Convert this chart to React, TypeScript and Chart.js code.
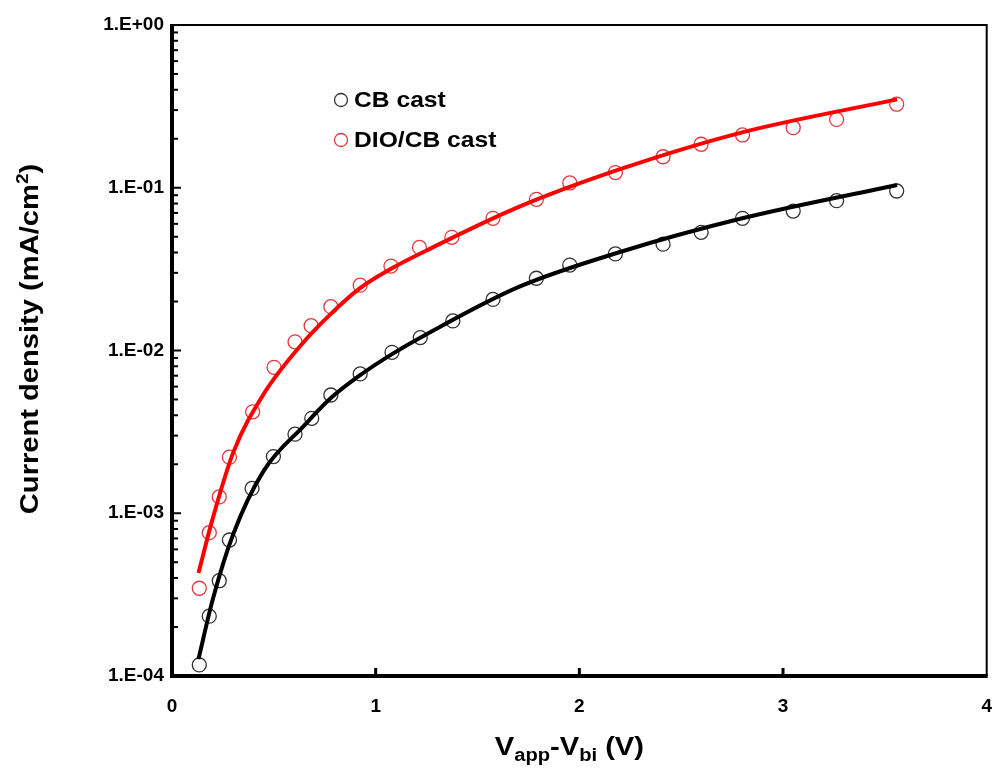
import React, { useEffect, useRef } from "react";
import { Chart, registerables } from "chart.js";

Chart.register(...registerables);

// Measured points
const cbX = [0.134, 0.183, 0.232, 0.282, 0.393, 0.498, 0.604, 0.686, 0.78, 0.924, 1.08, 1.219, 1.379, 1.576, 1.789, 1.953, 2.177, 2.411, 2.598, 2.801, 3.05, 3.263, 3.558];
const cbY = [1.17e-4, 2.33e-4, 3.85e-4, 6.85e-4, 1.42e-3, 2.23e-3, 3.06e-3, 3.83e-3, 5.33e-3, 7.18e-3, 9.75e-3, 1.2e-2, 1.52e-2, 2.06e-2, 2.78e-2, 3.35e-2, 3.92e-2, 4.5e-2, 5.32e-2, 6.49e-2, 7.19e-2, 8.33e-2, 9.55e-2];
const dioX = [0.134, 0.183, 0.232, 0.282, 0.396, 0.501, 0.604, 0.683, 0.78, 0.924, 1.075, 1.215, 1.374, 1.576, 1.789, 1.953, 2.177, 2.411, 2.598, 2.801, 3.05, 3.263, 3.558];
const dioY = [3.46e-4, 7.6e-4, 1.26e-3, 2.21e-3, 4.2e-3, 7.88e-3, 1.13e-2, 1.42e-2, 1.86e-2, 2.52e-2, 3.3e-2, 4.3e-2, 4.96e-2, 6.49e-2, 8.49e-2, 0.107, 0.124, 0.155, 0.185, 0.211, 0.234, 0.263, 0.326];

// Fitted curves
const cbFitX = [0.13, 0.2, 0.3, 0.45, 0.65, 0.78, 0.92, 1.08, 1.25, 1.7, 2.2, 2.8, 3.56];
const cbFitY = [1.27e-4, 2.95e-4, 7.4e-4, 1.82e-3, 3.47e-3, 5.1e-3, 7.0e-3, 9.5e-3, 1.26e-2, 2.45e-2, 4.03e-2, 6.49e-2, 0.104];
const dioFitX = [0.13, 0.2, 0.3, 0.45, 0.65, 0.78, 0.92, 1.08, 1.25, 1.7, 2.2, 2.8, 3.56];
const dioFitY = [4.3e-4, 9.3e-4, 2.35e-3, 5.4e-3, 1.14e-2, 1.68e-2, 2.4e-2, 3.2e-2, 4.12e-2, 7.6e-2, 0.13, 0.219, 0.349];

const seriesNames = ["CB cast", "DIO/CB cast"];
const yTickValues = [1e-4, 1e-3, 1e-2, 1e-1, 1];
const yTickLabels = ["1.E-04", "1.E-03", "1.E-02", "1.E-01", "1.E+00"];
const xTickValues = [0, 1, 2, 3, 4];

const FONT = "Arial, 'Liberation Sans', sans-serif";
const STRETCH = 1.12;

const toPts = (xs: number[], ys: number[]) => xs.map((x, i) => ({ x, y: ys[i] }));

function drawParts(ctx: CanvasRenderingContext2D, parts: [string, number, number][], startX: number, base: number) {
  let cx = startX;
  for (const [t, s, off] of parts) {
    ctx.font = `bold ${s}px ${FONT}`;
    ctx.fillText(t, cx, base + off);
    cx += ctx.measureText(t).width;
  }
}
function partsWidth(ctx: CanvasRenderingContext2D, parts: [string, number, number][]) {
  let w = 0;
  for (const [t, s] of parts) {
    ctx.font = `bold ${s}px ${FONT}`;
    w += ctx.measureText(t).width;
  }
  return w;
}

const decorPlugin = {
  id: "decor",
  afterDatasetsDraw(chart: any) {
    const { ctx, chartArea, scales } = chart;
    const { left, right, top, bottom } = chartArea;
    const xs = scales.x;
    const ys = scales.y;
    ctx.save();
    ctx.strokeStyle = "#000";
    // y ticks (inside)
    ctx.lineWidth = 2;
    for (let d = -4; d < 0; d++) {
      for (let m = 1; m <= 9; m++) {
        const v = m * Math.pow(10, d);
        const py = ys.getPixelForValue(v);
        const len = m === 1 ? 9 : 6;
        ctx.beginPath();
        ctx.moveTo(left, py);
        ctx.lineTo(left + len, py);
        ctx.stroke();
      }
    }
    const pyTop = ys.getPixelForValue(1);
    ctx.beginPath();
    ctx.moveTo(left, pyTop);
    ctx.lineTo(left + 9, pyTop);
    ctx.stroke();
    // x ticks (inside)
    ctx.lineWidth = 3;
    for (const v of [1, 2, 3]) {
      const px = xs.getPixelForValue(v);
      ctx.beginPath();
      ctx.moveTo(px, bottom);
      ctx.lineTo(px, bottom - 8);
      ctx.stroke();
    }
    // frame
    ctx.lineWidth = 2;
    ctx.beginPath();
    ctx.moveTo(left, top);
    ctx.lineTo(right, top);
    ctx.lineTo(right, bottom);
    ctx.stroke();
    ctx.lineWidth = 4;
    ctx.beginPath();
    ctx.moveTo(left, top - 1);
    ctx.lineTo(left, bottom);
    ctx.lineTo(right + 1, bottom);
    ctx.stroke();

    // legend
    const legendColors = ["#333", "#e0393e"];
    ctx.textBaseline = "middle";
    ctx.textAlign = "left";
    seriesNames.forEach((name, i) => {
      const cy = 100 + i * 40;
      ctx.beginPath();
      ctx.lineWidth = 1.3;
      ctx.strokeStyle = legendColors[i];
      ctx.arc(341, cy, 6.5, 0, Math.PI * 2);
      ctx.stroke();
      ctx.fillStyle = "#000";
      ctx.save();
      ctx.translate(354, cy + 1);
      ctx.scale(STRETCH, 1);
      ctx.font = `bold 22px ${FONT}`;
      ctx.fillText(name, 0, 0);
      ctx.restore();
    });

    // x title with subscripts
    ctx.fillStyle = "#000";
    ctx.textBaseline = "alphabetic";
    const parts: [string, number, number][] = [
      ["V", 26, 0],
      ["app", 18, 6],
      ["-V", 26, 0],
      ["bi", 18, 6],
      [" (V)", 26, 0],
    ];
    ctx.save();
    const xw = partsWidth(ctx, parts) * STRETCH;
    ctx.translate((left + right) / 2 - xw / 2 - 10, 755);
    ctx.scale(STRETCH, 1);
    drawParts(ctx, parts, 0, 0);
    ctx.restore();

    // y title rotated with superscript
    ctx.save();
    ctx.translate(38, 339);
    ctx.rotate(-Math.PI / 2);
    const yparts: [string, number, number][] = [
      ["Current density (mA/cm", 26, 0],
      ["2", 17, -10],
      [")", 26, 0],
    ];
    const tw = partsWidth(ctx, yparts);
    ctx.scale(STRETCH, 1);
    drawParts(ctx, yparts, -tw / 2, 0);
    ctx.restore();
    ctx.restore();
  },
};

export default function App() {
  const ref = useRef<HTMLCanvasElement | null>(null);
  useEffect(() => {
    if (!ref.current) return;
    const chart = new Chart(ref.current, {
      type: "scatter",
      data: {
        datasets: [
          {
            label: seriesNames[0] + " fit",
            data: toPts(cbFitX, cbFitY),
            showLine: true,
            borderColor: "#000",
            borderWidth: 4,
            pointRadius: 0,
            cubicInterpolationMode: "monotone",
            order: 1,
          },
          {
            label: seriesNames[1] + " fit",
            data: toPts(dioFitX, dioFitY),
            showLine: true,
            borderColor: "#ff0000",
            borderWidth: 4,
            pointRadius: 0,
            cubicInterpolationMode: "monotone",
            order: 1,
          },
          {
            label: seriesNames[0],
            data: toPts(cbX, cbY),
            showLine: false,
            pointStyle: "circle",
            pointRadius: 7,
            pointBorderWidth: 1.3,
            borderColor: "#333",
            backgroundColor: "rgba(0,0,0,0)",
            order: 2,
          },
          {
            label: seriesNames[1],
            data: toPts(dioX, dioY),
            showLine: false,
            pointStyle: "circle",
            pointRadius: 7,
            pointBorderWidth: 1.3,
            borderColor: "#e0393e",
            backgroundColor: "rgba(0,0,0,0)",
            order: 2,
          },
        ],
      },
      options: {
        animation: false,
        responsive: true,
        maintainAspectRatio: false,
        layout: { padding: { top: 25, right: 0, left: 0, bottom: 0 } },
        plugins: {
          legend: { display: false },
          tooltip: { enabled: false },
        },
        scales: {
          x: {
            type: "linear",
            min: 0,
            max: 4,
            afterBuildTicks: (s: any) => {
              s.ticks = xTickValues.map((v) => ({ value: v }));
            },
            afterFit: (s: any) => {
              s.height = 103;
              s.paddingLeft = 0;
              s.paddingRight = 0;
            },
            grid: { display: false, drawTicks: false },
            border: { display: false },
            ticks: {
              color: "#000",
              font: { family: FONT, size: 19, weight: "bold" },
              padding: 19,
              maxRotation: 0,
              autoSkip: false,
            },
          },
          y: {
            type: "logarithmic",
            min: 1e-4,
            max: 1,
            afterBuildTicks: (s: any) => {
              s.ticks = yTickValues.map((v) => ({ value: v }));
            },
            afterFit: (s: any) => {
              s.width = 172;
              s.paddingTop = 0;
              s.paddingBottom = 0;
            },
            grid: { display: false, drawTicks: false },
            border: { display: false },
            ticks: {
              color: "#000",
              font: { family: FONT, size: 19, weight: "bold" },
              padding: 8,
              autoSkip: false,
              callback: (v: any) => {
                const i = yTickValues.findIndex((t) => Math.abs(Math.log10(t) - Math.log10(v)) < 1e-6);
                return i >= 0 ? yTickLabels[i] : "";
              },
            },
          },
        },
      },
      plugins: [decorPlugin],
    } as any);
    return () => chart.destroy();
  }, []);
  return (
    <div style={{ position: "fixed", left: 0, top: 0, width: 995, height: 779, background: "#fff", overflow: "hidden" }}>
      <canvas ref={ref} />
    </div>
  );
}
